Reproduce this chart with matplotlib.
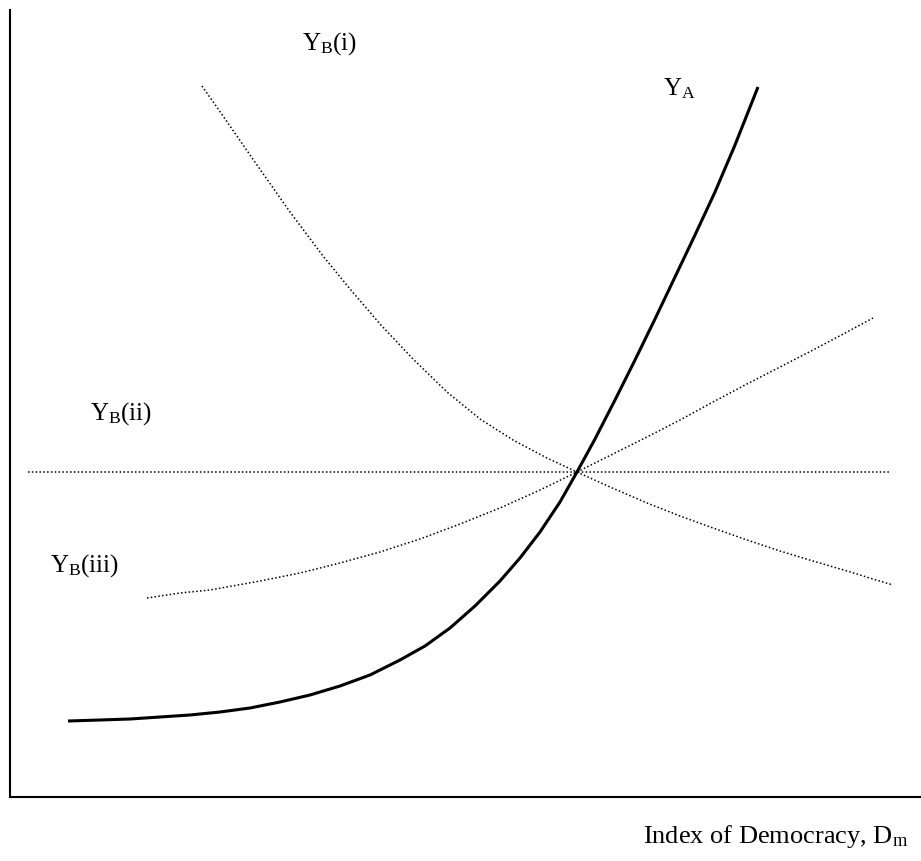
import matplotlib
matplotlib.use('Agg')
import matplotlib.pyplot as plt

plt.rcParams['font.family'] = ['Liberation Serif', 'DejaVu Serif']
plt.rcParams['mathtext.fontset'] = 'custom'
plt.rcParams['mathtext.rm'] = 'Liberation Serif'
plt.rcParams['mathtext.it'] = 'Liberation Serif:italic'

# curves (arbitrary units, origin at the axes corner)
ya_x = [58, 90, 120, 150, 180, 210, 240, 270, 300, 330, 360, 390, 415, 440, 465, 490,
        510, 530, 550, 567, 585, 605, 625, 645, 665, 685, 705, 725, 748]
ya_y = [76, 77, 78, 80, 82, 85, 89, 95, 102, 111, 122, 137, 151, 169, 191, 216,
        239, 265, 295, 325, 358, 397, 437, 478, 520, 562, 605, 652, 710]

ybi_x = [192, 213, 247, 280, 313, 340, 370, 403, 437, 470, 503, 537, 567, 600, 637,
         670, 703, 737, 770, 803, 837, 863, 883]
ybi_y = [711, 681, 632, 585, 541, 508, 473, 438, 405, 378, 357, 339, 325, 310, 294,
         281, 269, 257, 246, 236, 226, 218, 212]

ybii_x = [18, 880]
ybii_y = [325, 325]

ybiii_x = [137, 170, 200, 250, 290, 330, 370, 410, 450, 490, 530, 567, 603, 637, 670,
           703, 737, 770, 803, 837, 863]
ybiii_y = [199, 204, 207, 216, 224, 234, 245, 258, 273, 289, 307, 325, 343, 360, 377,
           395, 413, 430, 447, 465, 479]

labels = ['Y$_{\\mathrm{B}}$(i)', 'Y$_{\\mathrm{A}}$', 'Y$_{\\mathrm{B}}$(ii)', 'Y$_{\\mathrm{B}}$(iii)']
label_x = [292, 653, 80, 40]
label_y = [748, 703, 378, 226]
xlabel = 'Index of Democracy, D$_{\\mathrm{m}}$'

fig = plt.figure(figsize=(9.21, 8.62), dpi=100)
ax = fig.add_axes([10 / 921, 64 / 862, 911 / 921, 787 / 862])
ax.set_xlim(0, 911)
ax.set_ylim(0, 787)

dots = dict(color='black', lw=1.1, linestyle=(0, (1, 1.5)))
ax.plot(ybi_x, ybi_y, **dots)
ax.plot(ybii_x, ybii_y, **dots)
ax.plot(ybiii_x, ybiii_y, **dots)
ax.plot(ya_x, ya_y, color='black', lw=2.2, solid_capstyle='butt', solid_joinstyle='round')

for s, x, y in zip(labels, label_x, label_y):
    ax.text(x, y, s, fontsize=18, va='baseline', ha='left')

ax.text(633, -45, xlabel, fontsize=19, va='baseline', ha='left', clip_on=False)

for side in ['top', 'right']:
    ax.spines[side].set_visible(False)
for side in ['left', 'bottom']:
    ax.spines[side].set_linewidth(1.5)
ax.set_xticks([])
ax.set_yticks([])

fig.savefig('out.png', dpi=100)
